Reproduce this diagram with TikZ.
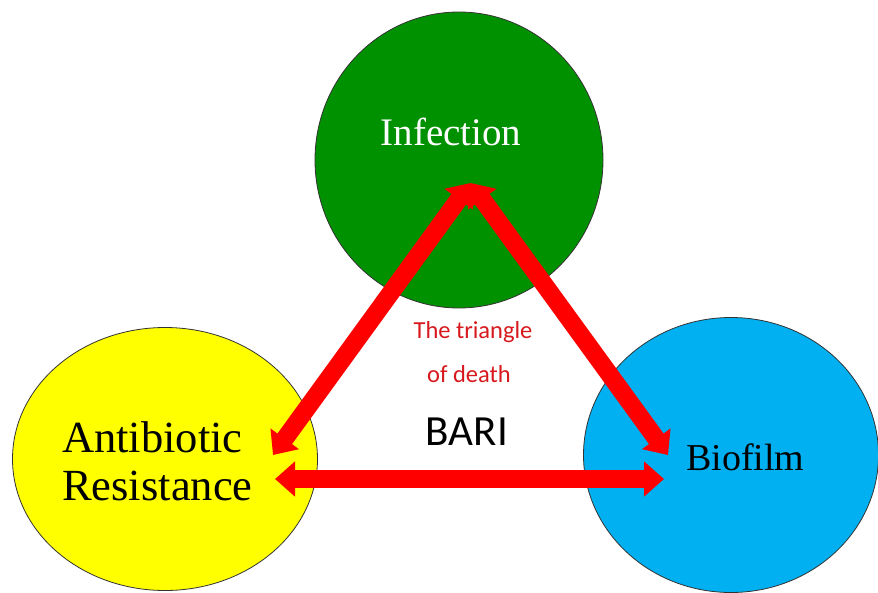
\documentclass[tikz,border=0pt]{standalone}
\usepackage{fontspec}
\setmainfont{Liberation Serif}
\newfontfamily\calib{Carlito}
\usetikzlibrary{shapes.geometric,arrows.meta}
\definecolor{infgreen}{RGB}{0,145,0}
\definecolor{resyellow}{RGB}{255,255,0}
\definecolor{bioblue}{RGB}{0,176,240}
\definecolor{arrred}{RGB}{255,0,0}
\definecolor{txtred}{RGB}{215,25,30}
\tikzset{
  blob/.style={ellipse, draw=black!80, line width=0.8pt, inner sep=0pt},
  bigarrow/.style={draw=arrred, line width=18pt,
    {Triangle[width=34pt,length=20pt]}-{Triangle[width=34pt,length=20pt]}},
  lbl/.style={inner sep=0pt, anchor=base},
}
\begin{document}
\begin{tikzpicture}[x=1pt,y=-1pt]
\useasboundingbox (0,0) rectangle (878,592);
\fill[white] (0,0) rectangle (878,592);
\node[blob, fill=infgreen, minimum width=288pt, minimum height=296pt] (inf) at (459,160) {};
\node[blob, fill=resyellow, minimum width=305pt, minimum height=263pt] (res) at (165,459) {};
\node[blob, fill=bioblue, minimum width=295pt, minimum height=275pt] (bio) at (731,455) {};

\node[lbl, text=white, font=\fontsize{39}{39}\selectfont] (tinf) at (451,145) {Infection};
\node[lbl, anchor=base west, font=\fontsize{44.5}{44.5}\selectfont] (tres1) at (62,452) {Antibiotic};
\node[lbl, anchor=base west, font=\fontsize{44.5}{44.5}\selectfont] (tres2) at (62,500) {Resistance};
\node[lbl, anchor=base west, font=\fontsize{38}{38}\selectfont] (tbio) at (686,470) {Biofilm};

\node[lbl, text=txtred, font=\calib\fontsize{24.5}{24.5}\selectfont] (t1) at (473,338) {The triangle};
\node[lbl, text=txtred, font=\calib\fontsize{24.5}{24.5}\selectfont] (t2) at (469,382) {of death};
\node[lbl, font=\calib\fontsize{43}{43}\selectfont] (bari) at (467,445) {BARI};

\coordinate (apex) at (470.5,183);
\coordinate (ldiag) at (273,455);
\coordinate (rdiag) at (668,455);
\coordinate (lhor) at (275,479);
\coordinate (rhor) at (664,479);

\draw[bigarrow] (ldiag) -- (apex);
\draw[bigarrow] (apex) -- (rdiag);
\draw[bigarrow] (lhor) -- (rhor);
\end{tikzpicture}
\end{document}
